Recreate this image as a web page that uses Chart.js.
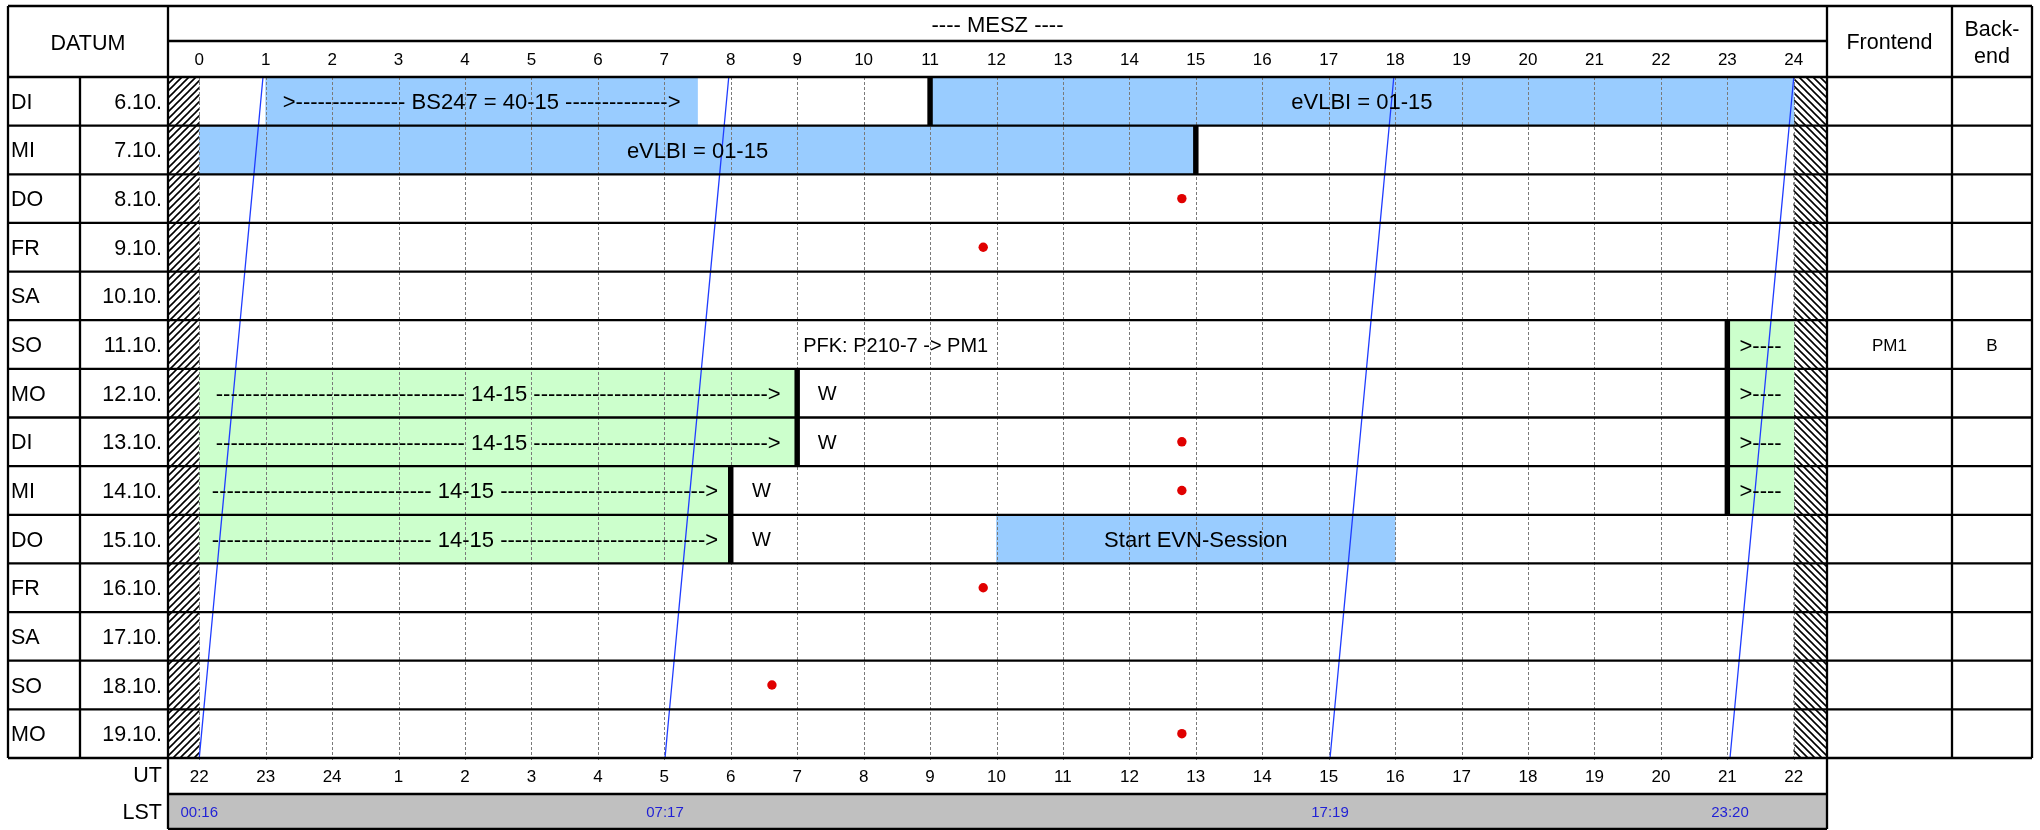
<!DOCTYPE html>
<html lang="de">
<head>
<meta charset="utf-8">
<title>Beobachtungsplan 6.10. - 19.10.</title>
<script src="https://cdn.jsdelivr.net/npm/chart.js@4.4.1/dist/chart.umd.min.js"></script>
<style>
  html, body { margin: 0; padding: 0; background: #fff; }
  canvas { display: block; }
</style>
</head>
<body>
<canvas id="plan" width="2040" height="830"></canvas>
<script>
// Wochenplan als Chart.js-Balken: Zeilen = Tage, x-Achse = Stunden MESZ.

const days = ['DI', 'MI', 'DO', 'FR', 'SA', 'SO', 'MO', 'DI', 'MI', 'DO', 'FR', 'SA', 'SO', 'MO'];
const dates = ['6.10.', '7.10.', '8.10.', '9.10.', '10.10.', '11.10.', '12.10.', '13.10.', '14.10.', '15.10.', '16.10.', '17.10.', '18.10.', '19.10.'];

// Stundenraster oben (MESZ) und unten (UT)
const hourTicks = [0, 1, 2, 3, 4, 5, 6, 7, 8, 9, 10, 11, 12, 13, 14, 15, 16, 17, 18, 19, 20, 21, 22, 23, 24];
const utTicks = ['22', '23', '24', '1', '2', '3', '4', '5', '6', '7', '8', '9', '10', '11', '12', '13', '14', '15', '16', '17', '18', '19', '20', '21', '22'];

// blaue Blöcke
const blueRows = ['6.10.', '6.10.', '7.10.', '15.10.'];
const blueFrom = [1, 11, 0, 12];
const blueTo = [7.5, 24, 15, 18];
const blueText = ['>--------------- BS247 = 40-15 -------------->', 'eVLBI = 01-15', 'eVLBI = 01-15', 'Start EVN-Session'];

// grüne Blöcke
const greenRows = ['11.10.', '12.10.', '13.10.', '14.10.', '12.10.', '13.10.', '14.10.', '15.10.'];
const greenFrom = [23, 23, 23, 23, 0, 0, 0, 0];
const greenTo = [24, 24, 24, 24, 9, 9, 8, 8];
const greenText = [
    '>----', '>----', '>----', '>----',
    '---------------------------------- 14-15 -------------------------------->',
    '---------------------------------- 14-15 -------------------------------->',
    '------------------------------ 14-15 ---------------------------->',
    '------------------------------ 14-15 ---------------------------->'
];

// schwarze Begrenzungsstriche
const stopRows = ['6.10.', '7.10.', '11.10.', '12.10.', '13.10.', '14.10.', '12.10.', '13.10.', '14.10.', '15.10.'];
const stopHours = [11, 15, 23, 23, 23, 23, 9, 9, 8, 8];

// Notizen im Raster
const noteRows = ['11.10.', '12.10.', '13.10.', '14.10.', '15.10.'];
const noteHours = [9.09, 9.31, 9.31, 8.32, 8.32];
const noteText = ['PFK: P210-7 -> PM1', 'W', 'W', 'W', 'W'];

// rote Punkte
const dotRows = ['8.10.', '9.10.', '13.10.', '14.10.', '16.10.', '18.10.', '19.10.'];
const dotHours = [14.79, 11.8, 14.79, 14.79, 11.8, 8.62, 14.79];

// Sternzeit-Linien: Stunde oben (6.10.) und unten (19.10.)
const lstTop = [0.96, 7.97, 17.98, 24.0];
const lstBottom = [0.0, 7.01, 17.02, 23.04];
const lstLabels = ['00:16', '07:17', '17:19', '23:20'];

// Frontend / Backend
const feRows = ['11.10.'];
const feText = ['PM1'];
const beText = ['B'];

const X_MIN = -0.47;
const X_MAX = 24.5;
const FONT = '"Liberation Sans", Arial, Helvetica, sans-serif';

const canvas = document.getElementById('plan');
const ctx = canvas.getContext('2d');

/**
 * Schraffur-Muster für die Randspalten.
 * @param {number} dir - 1 für "/" , -1 für "\"
 */
function hatch(dir) {
    const n = 7;
    const c = document.createElement('canvas');
    c.width = n;
    c.height = n;
    const g = c.getContext('2d');
    g.fillStyle = '#fff';
    g.fillRect(0, 0, n, n);
    g.strokeStyle = '#000';
    g.lineWidth = 1.6;
    g.beginPath();
    if (dir > 0) {
        g.moveTo(-1, n + 1); g.lineTo(n + 1, -1);
        g.moveTo(-1, 1); g.lineTo(1, -1);
        g.moveTo(n - 1, n + 1); g.lineTo(n + 1, n - 1);
    } else {
        g.moveTo(-1, -1); g.lineTo(n + 1, n + 1);
        g.moveTo(n - 1, -1); g.lineTo(n + 1, 1);
        g.moveTo(-1, n - 1); g.lineTo(1, n + 1);
    }
    g.stroke();
    return ctx.createPattern(c, 'repeat');
}

function text(c, s, x, y, size, align, color) {
    c.font = size + 'px ' + FONT;
    c.textAlign = align;
    c.textBaseline = 'alphabetic';
    c.fillStyle = color || '#000';
    c.fillText(s, x, y);
}

function line(c, x1, y1, x2, y2) {
    c.beginPath();
    c.moveTo(x1, y1);
    c.lineTo(x2, y2);
    c.stroke();
}

// Tabellenrahmen, Köpfe, Raster und Beschriftungen
const tablePlugin = {
    id: 'tabelle',
    beforeDraw(chart) {
        const c = chart.ctx;
        const a = chart.chartArea;
        c.save();
        c.fillStyle = '#fff';
        c.fillRect(0, 0, chart.width, chart.height);
        c.fillStyle = '#c0c0c0';
        c.fillRect(a.left, a.bottom + 36, a.right - a.left, 35);
        c.restore();
    },
    afterDatasetDraw(chart, args) {
        // gestricheltes Stundenraster über den Blöcken, unter Strichen und Linien
        if (chart.data.datasets[args.index].label !== 'grün') return;
        const c = chart.ctx;
        const a = chart.chartArea;
        const xs = chart.scales.x;
        c.save();
        c.strokeStyle = '#7a7a7a';
        c.lineWidth = 1;
        c.setLineDash([3, 2]);
        hourTicks.forEach(h => {
            const px = Math.round(xs.getPixelForValue(h)) + 0.5;
            line(c, px, a.top, px, a.bottom + 4);
        });
        c.restore();
    },
    afterDatasetsDraw(chart) {
        const c = chart.ctx;
        const a = chart.chartArea;
        const xs = chart.scales.x;
        const ys = chart.scales.y;
        const yl = chart.scales.yl;
        const mid = d => ys.getPixelForValue(dates.indexOf(d));
        const L = 8, R = 2032, T = 6, SPLIT = 80, FE = 1952, HEAD = 41;
        const utBottom = a.bottom + 36;
        const lstBottomY = a.bottom + 71;

        c.save();

        // Texte in den Blöcken
        blueText.forEach((s, i) => {
            text(c, s, xs.getPixelForValue((blueFrom[i] + blueTo[i]) / 2), mid(blueRows[i]) + 8, 22, 'center');
        });
        greenText.forEach((s, i) => {
            text(c, s, xs.getPixelForValue((greenFrom[i] + greenTo[i]) / 2), mid(greenRows[i]) + 8, 22, 'center');
        });
        noteText.forEach((s, i) => {
            text(c, s, xs.getPixelForValue(noteHours[i]), mid(noteRows[i]) + 7, 20, 'left');
        });

        // Rahmen
        c.strokeStyle = '#000';
        c.lineWidth = 2.3;
        c.setLineDash([]);
        line(c, L, T, R, T);
        line(c, a.left, HEAD, a.right, HEAD);
        for (let i = 0; i <= dates.length; i++) {
            const y = yl.getPixelForValue(i);
            line(c, L, y, R, y);
        }
        line(c, a.left, utBottom, a.right, utBottom);
        line(c, a.left, lstBottomY, a.right, lstBottomY);
        line(c, L, T, L, a.bottom);
        line(c, SPLIT, a.top, SPLIT, a.bottom);
        line(c, a.left, T, a.left, lstBottomY);
        line(c, a.right, T, a.right, lstBottomY);
        line(c, FE, T, FE, a.bottom);
        line(c, R, T, R, a.bottom);

        // Kopfzeile
        text(c, '---- MESZ ----', (a.left + a.right) / 2, 32, 22, 'center');
        text(c, 'DATUM', (L + a.left) / 2, 50, 21.5, 'center');
        text(c, 'Frontend', (a.right + FE) / 2, 49, 21.5, 'center');
        text(c, 'Back-', (FE + R) / 2, 36, 21.5, 'center');
        text(c, 'end', (FE + R) / 2, 63, 21.5, 'center');
        hourTicks.forEach(h => text(c, String(h), xs.getPixelForValue(h), 65, 17, 'center'));

        // Datumsspalten
        dates.forEach((d, i) => {
            text(c, days[i], L + 3, mid(d) + 7.5, 21.5, 'left');
            text(c, d, a.left - 6, mid(d) + 7.5, 21.5, 'right');
        });

        // Frontend / Backend
        feRows.forEach((d, i) => {
            text(c, feText[i], (a.right + FE) / 2, mid(d) + 6, 17, 'center');
            text(c, beText[i], (FE + R) / 2, mid(d) + 6, 17, 'center');
        });

        // UT- und LST-Zeile
        text(c, 'UT', a.left - 6, a.bottom + 24, 21.5, 'right');
        text(c, 'LST', a.left - 6, a.bottom + 61, 21.5, 'right');
        utTicks.forEach((s, i) => text(c, s, xs.getPixelForValue(hourTicks[i]), a.bottom + 24, 17, 'center'));
        lstLabels.forEach((s, i) => text(c, s, xs.getPixelForValue(lstBottom[i]), a.bottom + 59, 15, 'center', '#1f1fd6'));

        c.restore();
    }
};

const hatchLeft = hatch(1);
const hatchRight = hatch(-1);

const chart = new Chart(ctx, {
    type: 'bar',
    data: {
        labels: dates,
        datasets: [
            {
                label: 'schraffur links',
                data: dates.map(d => ({ y: d, x: [X_MIN, 0] })),
                backgroundColor: hatchLeft,
                order: 10
            },
            {
                label: 'schraffur rechts',
                data: dates.map(d => ({ y: d, x: [24, X_MAX] })),
                backgroundColor: hatchRight,
                order: 10
            },
            {
                label: 'blau',
                data: blueRows.map((d, i) => ({ y: d, x: [blueFrom[i], blueTo[i]] })),
                backgroundColor: '#99ccff',
                order: 9
            },
            {
                label: 'grün',
                data: greenRows.map((d, i) => ({ y: d, x: [greenFrom[i], greenTo[i]] })),
                backgroundColor: '#ccffcc',
                order: 8
            },
            {
                label: 'stop',
                data: stopRows.map((d, i) => ({ y: d, x: [stopHours[i] - 0.036, stopHours[i] + 0.036] })),
                backgroundColor: '#000',
                order: 6
            },
            {
                type: 'scatter',
                label: 'punkte',
                data: dotRows.map((d, i) => ({ y: d, x: dotHours[i] })),
                yAxisID: 'y',
                backgroundColor: '#e00000',
                borderWidth: 0,
                pointRadius: 4.7,
                order: 4
            },
            ...lstTop.map((t, i) => ({
                type: 'line',
                label: 'LST ' + lstLabels[i],
                data: [{ x: t, y: 0 }, { x: lstBottom[i], y: dates.length }],
                yAxisID: 'yl',
                borderColor: '#1f3cff',
                borderWidth: 1.3,
                pointRadius: 0,
                fill: false,
                order: 2
            }))
        ]
    },
    options: {
        indexAxis: 'y',
        responsive: false,
        maintainAspectRatio: false,
        animation: false,
        events: [],
        layout: {
            padding: { left: 168, right: 213, top: 77, bottom: 72 }
        },
        datasets: {
            bar: {
                grouped: false,
                barPercentage: 1,
                categoryPercentage: 1,
                borderWidth: 0
            }
        },
        scales: {
            x: { type: 'linear', min: X_MIN, max: X_MAX, offset: false, display: false },
            y: { type: 'category', labels: dates, offset: true, display: false },
            yl: {
                type: 'linear', axis: 'y', position: 'left',
                min: 0, max: dates.length, reverse: true,
                offset: false, grace: 0, display: false
            }
        },
        plugins: {
            legend: { display: false },
            tooltip: { enabled: false },
            title: { display: false }
        }
    },
    plugins: [tablePlugin]
});
</script>
</body>
</html>
